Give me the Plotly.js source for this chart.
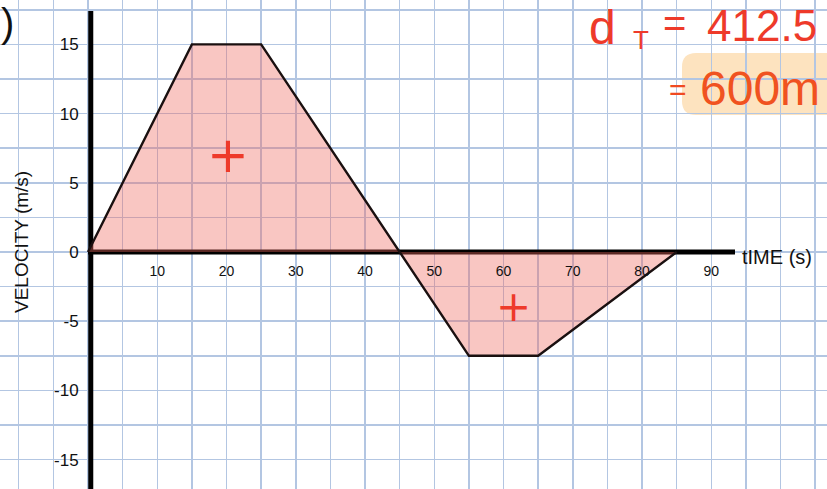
<!DOCTYPE html>
<html>
<head>
<meta charset="utf-8">
<script src="https://cdn.plot.ly/plotly-3.0.1.min.js"></script>
<style>html,body{margin:0;padding:0;background:#fff;}#chart{width:827px;height:489px;}</style>
</head>
<body>
<div id="chart"></div>
<script>
// ---- data ----
const time = [0, 15, 25, 45, 55, 65, 85];          // s
const velocity = [0, 15, 15, 0, -7.5, -7.5, 0];    // m/s
const xTickValues = [10, 20, 30, 40, 50, 60, 70, 80, 90];
const xTickLabels = ['10', '20', '30', '40', '50', '60', '70', '80', '90'];
const yTickValues = [15, 10, 5, 0, -5, -10, -15];
const yTickLabels = ['15', '10', '5', '0', '-5', '-10', '-15'];
const signT = [20.2, 61.4];
const signV = [7.0, -3.95];
const signText = ['+', '+'];

// ---- layout helpers ----
const W = 827, H = 489;
const X0PX = 88, PX_PER_S = 6.926;
const Y0PX = 252, PX_PER_V = 13.84;
const xRange = [-X0PX / PX_PER_S, (W - X0PX) / PX_PER_S];
const yRange = [-(H - Y0PX) / PX_PER_V, Y0PX / PX_PER_V];
const px = p => p / W;
const py = p => 1 - p / H;

function gridVals(lo, hi, step) {
  const out = [];
  for (let v = Math.ceil(lo / step) * step; v <= hi; v += step) out.push(Math.round(v * 100) / 100);
  return out;
}
const gxVals = gridVals(xRange[0], xRange[1], 5);
const gyVals = gridVals(yRange[0], yRange[1], 2.5);

const GRID = '#b3c6e2';
const FONT = 'Liberation Sans, Arial, sans-serif';

const trace = {
  x: time, y: velocity, type: 'scatter', mode: 'lines',
  fill: 'tozeroy', fillcolor: 'rgba(238,105,95,0.38)',
  line: {color: '#1a1010', width: 2.4},
  hoverinfo: 'skip', showlegend: false
};

const annotations = [];
for (let i = 0; i < signT.length; i++) {
  annotations.push({x: signT[i], y: signV[i], xref: 'x', yref: 'y', text: signText[i],
    showarrow: false, font: {family: 'DejaVu Sans', size: i === 0 ? 50 : 42, color: '#ee3a2a'},
    xanchor: 'center', yanchor: 'middle'});
}
const red = '#ee3a2a';
annotations.push(
  {x: px(740), y: py(257), xref: 'paper', yref: 'paper', text: 'tIME (s)', showarrow: false,
   xanchor: 'left', yanchor: 'middle', font: {family: FONT, size: 20, color: '#111'}},
  {x: px(22), y: py(242), xref: 'paper', yref: 'paper', text: 'VELOCITY (m/s)', showarrow: false,
   textangle: -90, xanchor: 'center', yanchor: 'middle', font: {family: FONT, size: 19, color: '#111'}},
  {x: px(0), y: py(0), xref: 'paper', yref: 'paper', text: ')', showarrow: false,
   xanchor: 'left', yanchor: 'top', borderpad: 0, font: {family: FONT, size: 40, color: '#111'}},
  {x: px(588), y: py(0), xref: 'paper', yref: 'paper', text: 'd', showarrow: false,
   xanchor: 'left', yanchor: 'top', borderpad: 0, font: {family: FONT, size: 48, color: red}},
  {x: px(632), y: py(24), xref: 'paper', yref: 'paper', text: 'T', showarrow: false,
   xanchor: 'left', yanchor: 'top', borderpad: 0, font: {family: FONT, size: 26, color: red}},
  {x: px(662), y: py(0), xref: 'paper', yref: 'paper', text: '=', showarrow: false,
   xanchor: 'left', yanchor: 'top', borderpad: 0, font: {family: FONT, size: 40, color: red}},
  {x: px(706), y: py(0), xref: 'paper', yref: 'paper', text: '412.5', showarrow: false,
   xanchor: 'left', yanchor: 'top', borderpad: 0, font: {family: FONT, size: 44, color: red}},
  {x: px(678), y: py(89), xref: 'paper', yref: 'paper', text: '=', showarrow: false,
   xanchor: 'center', yanchor: 'middle', font: {family: FONT, size: 30, color: '#f04a22'}},
  {x: px(698), y: py(88), xref: 'paper', yref: 'paper', text: '600m', showarrow: false,
   xanchor: 'left', yanchor: 'middle', font: {family: FONT, size: 48, color: '#f05220'}}
);

// rounded highlight behind "600m"
const hx0 = px(682), hx1 = px(845), hy0 = py(115), hy1 = py(53);
const rx = px(14), ry = 14 / H;
const hlPath = `M ${hx0 + rx} ${hy1} L ${hx1} ${hy1} L ${hx1} ${hy0} L ${hx0 + rx} ${hy0} ` +
  `Q ${hx0} ${hy0} ${hx0} ${hy0 + ry} L ${hx0} ${hy1 - ry} Q ${hx0} ${hy1} ${hx0 + rx} ${hy1} Z`;

const shapes = [
  {type: 'path', xref: 'paper', yref: 'paper', path: hlPath,
   fillcolor: '#fde3bf', line: {width: 0}, layer: 'between'},
  {type: 'line', xref: 'x', yref: 'y', x0: 0, x1: (735 - X0PX) / PX_PER_S, y0: 0, y1: 0,
   line: {color: '#000', width: 5}, layer: 'between'},
  {type: 'line', xref: 'x', yref: 'y', x0: 0.4, x1: 0.4, y0: yRange[0], y1: (Y0PX - 11) / PX_PER_V,
   line: {color: '#000', width: 5}, layer: 'between'}
];

const layout = {
  width: W, height: H,
  margin: {l: 0, r: 0, t: 0, b: 0, pad: 0},
  paper_bgcolor: '#fff', plot_bgcolor: '#fff',
  showlegend: false,
  xaxis: {range: xRange, tickmode: 'array', tickvals: xTickValues, ticktext: xTickLabels,
    showgrid: true, gridcolor: GRID, gridwidth: 1.5, zeroline: false, showline: false,
    minor: {tickmode: 'array', tickvals: gxVals, showgrid: true, gridcolor: GRID, gridwidth: 1.5, ticks: ''},
    anchor: 'free', position: 1 - Y0PX / H, ticks: 'outside', ticklen: 6, tickcolor: 'rgba(0,0,0,0)',
    tickfont: {family: FONT, size: 14, color: '#111'}, fixedrange: true},
  yaxis: {range: yRange, tickmode: 'array', tickvals: yTickValues, ticktext: yTickLabels,
    showgrid: true, gridcolor: GRID, gridwidth: 1.5, zeroline: false, showline: false,
    minor: {tickmode: 'array', tickvals: gyVals, showgrid: true, gridcolor: GRID, gridwidth: 1.5, ticks: ''},
    anchor: 'free', position: X0PX / W, ticks: 'outside', ticklen: 6, tickcolor: 'rgba(0,0,0,0)',
    tickfont: {family: FONT, size: 17, color: '#111'}, fixedrange: true},
  shapes: shapes,
  annotations: annotations
};

Plotly.newPlot('chart', [trace], layout, {staticPlot: true, displayModeBar: false});
</script>
</body>
</html>
